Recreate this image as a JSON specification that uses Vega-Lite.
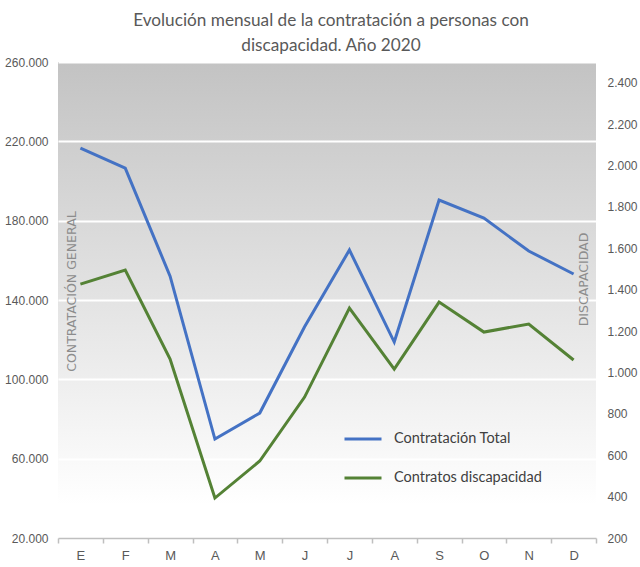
{
  "$schema": "https://vega.github.io/schema/vega-lite/v6.json",
  "width": 538,
  "height": 476,
  "autosize": {"type": "none"},
  "padding": {"left": 58, "top": 62, "right": 44, "bottom": 29},
  "background": "#ffffff",
  "config": {
    "locale": {"number": {"decimal": ",", "thousands": ".", "grouping": [3], "currency": ["", " €"]}},
    "view": {
      "stroke": null,
      "fill": {"gradient": "linear", "x1": 0, "y1": 0, "x2": 0, "y2": 1,
        "stops": [{"offset": 0, "color": "#c3c3c3"}, {"offset": 0.93, "color": "#ffffff"}, {"offset": 1, "color": "#ffffff"}]}
    },
    "font": "Liberation Sans"
  },
  "title": {
    "text": ["Evolución mensual de la contratación a personas con", "discapacidad. Año 2020"],
    "font": "Lato",
    "fontSize": 17.2,
    "fontWeight": "normal",
    "color": "#595959",
    "anchor": "middle",
    "offset": 2,
    "lineHeight": 25,
    "dx": 4
  },
  "data": {
    "values": [
      {"mes": "Enero", "serie": "Contratación Total", "valor": 216600},
      {"mes": "Febrero", "serie": "Contratación Total", "valor": 206500},
      {"mes": "Marzo", "serie": "Contratación Total", "valor": 152000},
      {"mes": "Abril", "serie": "Contratación Total", "valor": 69900},
      {"mes": "Mayo", "serie": "Contratación Total", "valor": 83000},
      {"mes": "Junio", "serie": "Contratación Total", "valor": 126500},
      {"mes": "Julio", "serie": "Contratación Total", "valor": 165200},
      {"mes": "Agosto", "serie": "Contratación Total", "valor": 118800},
      {"mes": "Septiembre", "serie": "Contratación Total", "valor": 190400},
      {"mes": "Octubre", "serie": "Contratación Total", "valor": 181300},
      {"mes": "Noviembre", "serie": "Contratación Total", "valor": 164700},
      {"mes": "Diciembre", "serie": "Contratación Total", "valor": 153100},
      {"mes": "Enero", "serie": "Contratos discapacidad", "valor": 1427},
      {"mes": "Febrero", "serie": "Contratos discapacidad", "valor": 1495},
      {"mes": "Marzo", "serie": "Contratos discapacidad", "valor": 1065},
      {"mes": "Abril", "serie": "Contratos discapacidad", "valor": 393},
      {"mes": "Mayo", "serie": "Contratos discapacidad", "valor": 572},
      {"mes": "Junio", "serie": "Contratos discapacidad", "valor": 881},
      {"mes": "Julio", "serie": "Contratos discapacidad", "valor": 1311},
      {"mes": "Agosto", "serie": "Contratos discapacidad", "valor": 1016},
      {"mes": "Septiembre", "serie": "Contratos discapacidad", "valor": 1340},
      {"mes": "Octubre", "serie": "Contratos discapacidad", "valor": 1195},
      {"mes": "Noviembre", "serie": "Contratos discapacidad", "valor": 1234},
      {"mes": "Diciembre", "serie": "Contratos discapacidad", "valor": 1060}
    ]
  },
  "encoding": {
    "x": {
      "field": "mes", "type": "ordinal",
      "sort": ["Enero", "Febrero", "Marzo", "Abril", "Mayo", "Junio", "Julio", "Agosto", "Septiembre", "Octubre", "Noviembre", "Diciembre"],
      "scale": {"type": "band", "paddingInner": 0, "paddingOuter": 0},
      "bandPosition": 0.5,
      "axis": {
        "title": null, "tickBand": "extent", "labelExpr": "isString(datum.value) ? substring(datum.value, 0, 1) : ''",
        "domainColor": "#bfbfbf", "domainWidth": 1.5, "tickColor": "#bfbfbf", "tickSize": 5, "tickWidth": 1.5,
        "labelFontSize": 13, "labelColor": "#595959", "labelPadding": 6, "labelAngle": 0, "grid": false
      }
    },
    "color": {
      "field": "serie", "type": "nominal",
      "scale": {"domain": ["Contratación Total", "Contratos discapacidad"], "range": ["#4472c4", "#548235"]},
      "legend": {
        "orient": "none", "legendX": 285, "legendY": 357, "title": null, "padding": 0,
        "symbolType": "stroke", "symbolSize": 1369, "symbolStrokeWidth": 3,
        "labelFont": "Lato", "labelFontSize": 14.5, "labelColor": "#404040", "rowPadding": 12, "labelOffset": 11
      }
    }
  },
  "layer": [
    {
      "transform": [{"filter": "datum.serie == 'Contratación Total'"}],
      "mark": {"type": "line", "strokeWidth": 3},
      "encoding": {
        "y": {
          "field": "valor", "type": "quantitative",
          "scale": {"domain": [20000, 260000], "nice": false, "zero": false},
          "axis": {
            "orient": "left", "values": [20000, 60000, 100000, 140000, 180000, 220000, 260000], "format": ",d",
            "grid": true, "gridColor": "#ffffff", "gridWidth": 2, "domain": false, "ticks": false,
            "labelPadding": 10, "labelFontSize": 12, "labelColor": "#595959",
            "title": "CONTRATACIÓN GENERAL", "titleX": 13, "titleY": 229, "titleAngle": 270,
            "titleAlign": "center", "titleBaseline": "middle", "titleFont": "DejaVu Sans", "titleFontSize": 12.5,
            "titleFontWeight": "normal", "titleColor": "#8c8c8c"
          }
        }
      }
    },
    {
      "transform": [{"filter": "datum.serie == 'Contratos discapacidad'"}],
      "mark": {"type": "line", "strokeWidth": 3},
      "encoding": {
        "y": {
          "field": "valor", "type": "quantitative",
          "scale": {"domain": [200, 2500], "nice": false, "zero": false},
          "axis": {
            "orient": "right", "values": [200, 400, 600, 800, 1000, 1200, 1400, 1600, 1800, 2000, 2200, 2400], "format": ",d",
            "grid": false, "domain": false, "ticks": false,
            "labelPadding": 11, "labelFontSize": 12, "labelColor": "#595959",
            "title": "DISCAPACIDAD", "titleX": -13, "titleY": 217, "titleAngle": 270,
            "titleAlign": "center", "titleBaseline": "middle", "titleFont": "DejaVu Sans", "titleFontSize": 12.5,
            "titleFontWeight": "normal", "titleColor": "#8c8c8c"
          }
        }
      }
    }
  ],
  "resolve": {"scale": {"y": "independent"}}
}
